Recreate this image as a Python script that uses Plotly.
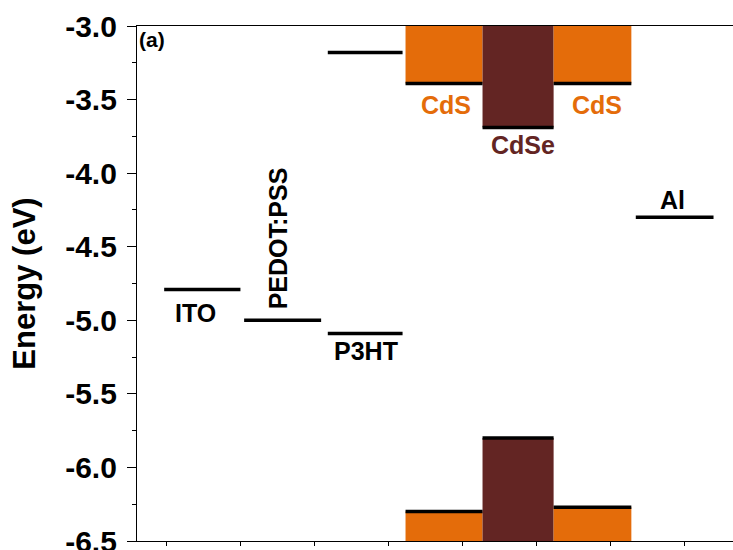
import plotly.graph_objects as go

# ---------------- data ----------------
materials = ["ITO", "PEDOT:PSS", "P3HT", "CdS", "CdSe", "CdS", "Al"]
x_start = [0.97, 2.05, 3.18, 4.23, 5.27, 6.23, 7.34]
x_end = [2.00, 3.09, 4.19, 5.27, 6.23, 7.28, 8.39]
lumo = [None, None, -3.18, -3.39, -3.69, -3.39, None]      # upper level (eV)
homo = [-4.79, -5.00, -5.09, -6.30, -5.80, -6.27, -4.30]   # lower level / work function (eV)
band_fill = [None, None, None, "#E46C0A", "#632523", "#E46C0A", None]

label_text = ["ITO", "PEDOT:PSS", "P3HT", "CdS", "CdSe", "CdS", "Al"]
label_x = [1.39, 2.50, 3.69, 4.78, 5.81, 6.81, 7.84]
label_y = [-4.95, -4.44, -5.21, -3.54, -3.81, -3.54, -4.18]
label_angle = [0, -90, 0, 0, 0, 0, 0]
label_color = ["black", "black", "black", "#E46C0A", "#632523", "#E46C0A", "black"]

y_ticks = [-6.5, -6.0, -5.5, -5.0, -4.5, -4.0, -3.5, -3.0]
y_tick_text = ["-6.5", "-6.0", "-5.5", "-5.0", "-4.5", "-4.0", "-3.5", "-3.0"]
x_ticks = [1, 2, 3, 4, 5, 6, 7, 8]
y_range = [-6.5, -3.0]
x_range = [0.603, 8.653]

FONT = "Arial, Liberation Sans, sans-serif"

fig = go.Figure()

# filled bands (conduction band up to frame top, valence band down to frame bottom)
shapes = []
for i in range(len(materials)):
    if band_fill[i] is None:
        continue
    shapes.append(dict(type="rect", xref="x", yref="y", layer="below",
                       x0=x_start[i], x1=x_end[i], y0=lumo[i], y1=y_range[1],
                       fillcolor=band_fill[i], line=dict(width=0)))
    shapes.append(dict(type="rect", xref="x", yref="y", layer="below",
                       x0=x_start[i], x1=x_end[i], y0=y_range[0], y1=homo[i],
                       fillcolor=band_fill[i], line=dict(width=0)))

# level lines
lx, ly = [], []
for i in range(len(materials)):
    for e in (lumo[i], homo[i]):
        if e is None:
            continue
        lx += [x_start[i], x_end[i], None]
        ly += [e, e, None]
fig.add_trace(go.Scatter(x=lx, y=ly, mode="lines",
                         line=dict(color="black", width=3.5),
                         hoverinfo="skip", showlegend=False))

annotations = []
for t, x, y, a, c in zip(label_text, label_x, label_y, label_angle, label_color):
    annotations.append(dict(x=x, y=y, xref="x", yref="y", text=t, showarrow=False,
                            textangle=a, font=dict(family=FONT, size=25, color=c, weight="bold"),
                            xanchor="center", yanchor="middle"))
annotations.append(dict(x=0, y=1, xref="paper", yref="paper", text="(a)", showarrow=False,
                        xanchor="left", yanchor="top", xshift=0, yshift=0,
                        font=dict(family=FONT, size=21, color="black", weight="bold")))

fig.update_layout(
    width=733, height=550,
    margin=dict(l=137, r=0, t=26, b=9),
    paper_bgcolor="white", plot_bgcolor="white",
    shapes=shapes, annotations=annotations, showlegend=False,
    xaxis=dict(range=x_range, showgrid=False, zeroline=False, automargin=False,
               showline=True, linecolor="black", linewidth=1.3, mirror=True,
               ticks="outside", ticklen=4, tickcolor="black", tickwidth=1,
               tickvals=x_ticks, showticklabels=False),
    yaxis=dict(range=y_range, showgrid=False, zeroline=False, automargin=False,
               showline=True, linecolor="black", linewidth=1.3, mirror=False,
               ticks="outside", ticklen=9, tickcolor="black", tickwidth=1.3,
               tickvals=y_ticks, ticktext=y_tick_text, ticklabelstandoff=4,
               ticklabeloverflow="allow",
               tickfont=dict(family=FONT, size=30, color="black", weight="bold"),
               minor=dict(ticks="outside", ticklen=4, tickcolor="black", tickwidth=1,
                          tick0=-6.5, dtick=0.25),
               title=dict(text="Energy (eV)", standoff=20,
                          font=dict(family=FONT, size=31, color="black", weight="bold"))),
)

fig.write_html("out.html")
